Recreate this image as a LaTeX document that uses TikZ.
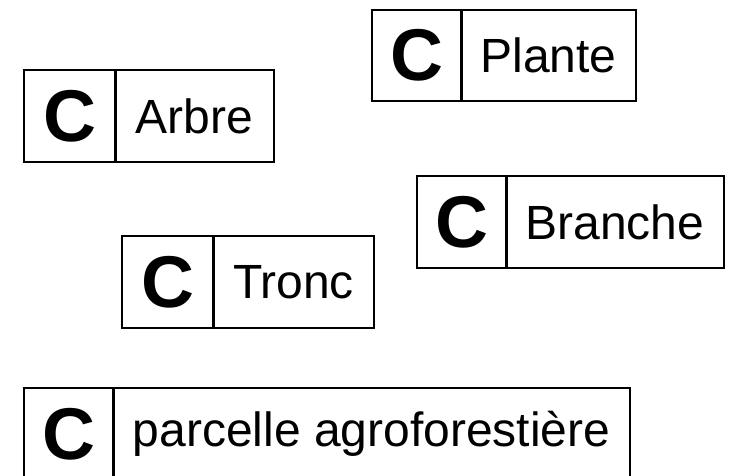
\documentclass[tikz,border=0pt]{standalone}
\usepackage{fontspec}
\setmainfont{Liberation Sans}
\begin{document}
\begin{tikzpicture}[x=0.75pt,y=-0.75pt,
  cbox/.style={draw=black,line width=1.5pt,rectangle,inner sep=0pt,anchor=north west,
    font=\fontsize{55}{60}\selectfont\bfseries},
  namebox/.style={draw=black,line width=1.5pt,rectangle,inner sep=0pt,anchor=north west,
    font=\fontsize{36}{42}\selectfont},
  divider/.style={draw=black,line width=2.2pt}]
\useasboundingbox (0,0) rectangle (730,475);
% Plante
\node[namebox,minimum width=175*0.75pt,minimum height=91*0.75pt] (plante) at (460,9) {Plante};
\node[cbox,minimum width=89*0.75pt,minimum height=91*0.75pt] (cplante) at (371,9) {C};
\draw[divider] (cplante.north east) -- (cplante.south east);
% Arbre
\node[namebox,minimum width=159*0.75pt,minimum height=92*0.75pt] (arbre) at (114,69) {Arbre};
\node[cbox,minimum width=91*0.75pt,minimum height=92*0.75pt] (carbre) at (23,69) {C};
\draw[divider] (carbre.north east) -- (carbre.south east);
% Branche
\node[namebox,minimum width=218*0.75pt,minimum height=92*0.75pt] (branche) at (505,175) {Branche};
\node[cbox,minimum width=89*0.75pt,minimum height=92*0.75pt] (cbranche) at (416,175) {C};
\draw[divider] (cbranche.north east) -- (cbranche.south east);
% Tronc
\node[namebox,minimum width=161*0.75pt,minimum height=92*0.75pt] (tronc) at (212,235) {Tronc};
\node[cbox,minimum width=91*0.75pt,minimum height=92*0.75pt] (ctronc) at (121,235) {C};
\draw[divider] (ctronc.north east) -- (ctronc.south east);
% parcelle
\node[namebox,minimum width=517*0.75pt,minimum height=92*0.75pt] (parcelle) at (112,387) {parcelle agroforestière};
\node[cbox,minimum width=89*0.75pt,minimum height=92*0.75pt] (cparcelle) at (23,387) {C};
\draw[divider] (cparcelle.north east) -- (cparcelle.south east);
\end{tikzpicture}
\end{document}
